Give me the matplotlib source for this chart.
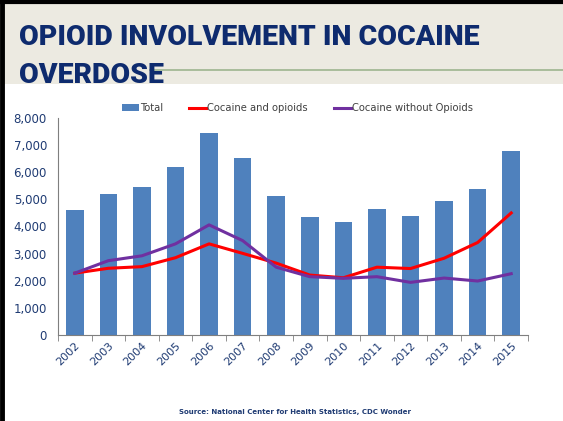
import numpy as np
import matplotlib
matplotlib.use("Agg")
import matplotlib.pyplot as plt
from matplotlib.patches import Rectangle
from matplotlib.lines import Line2D

# Data
years = ["2002", "2003", "2004", "2005", "2006", "2007", "2008",
         "2009", "2010", "2011", "2012", "2013", "2014", "2015"]
total = [4590, 5190, 5440, 6210, 7440, 6520, 5120,
         4340, 4170, 4660, 4390, 4930, 5400, 6780]
with_opioids = [2280, 2460, 2520, 2850, 3360, 3010, 2650,
                2210, 2110, 2500, 2450, 2830, 3410, 4500]
without_opioids = [2280, 2740, 2920, 3360, 4060, 3480, 2500,
                   2150, 2090, 2150, 1940, 2100, 1990, 2260]

NAVY = "#1F3B73"
TITLE_NAVY = "#0E2B6E"
BAR = "#4F81BD"
RED = "#FF0000"
PURPLE = "#7030A0"

fig = plt.figure(figsize=(5.63, 4.21), dpi=100)
fig.patch.set_facecolor("white")

# Header band and slide frame
fig.patches.append(Rectangle((0, 1 - 84 / 421), 1, 84 / 421, transform=fig.transFigure,
                             facecolor="#ECEAE1", edgecolor="none", zorder=0))
fig.add_artist(Line2D([150 / 563, 1], [1 - 70 / 421] * 2, transform=fig.transFigure,
                      color="#9DB58F", lw=1.2))
fig.add_artist(Line2D([0, 1], [1 - 1.5 / 421] * 2, transform=fig.transFigure,
                      color="black", lw=3))
fig.add_artist(Line2D([2 / 563] * 2, [0, 1], transform=fig.transFigure,
                      color="black", lw=3.5))

title_font = ["Roboto", "Liberation Sans", "DejaVu Sans"]
fig.text(19 / 563, 1 - 45 / 421, "OPIOID INVOLVEMENT IN COCAINE", family=title_font,
         weight="heavy", fontsize=20.5, color=TITLE_NAVY, ha="left", va="baseline")
fig.text(19 / 563, 1 - 83 / 421, "OVERDOSE", family=title_font,
         weight="heavy", fontsize=20.5, color=TITLE_NAVY, ha="left", va="baseline")

ax = fig.add_axes([58 / 563, 1 - 335 / 421, 470 / 563, 217 / 421])
x = np.arange(len(years))
bars = ax.bar(x, total, width=0.52, color=BAR, label="Total", zorder=2)
red_line, = ax.plot(x, with_opioids, color=RED, lw=2.2, label="Cocaine and opioids", zorder=3)
purple_line, = ax.plot(x, without_opioids, color=PURPLE, lw=2.2,
                       label="Cocaine without Opioids", zorder=3)

ax.set_xlim(-0.5, len(years) - 0.5)
ax.set_ylim(0, 8000)
ax.set_yticks(range(0, 8001, 1000))
ax.set_yticklabels([f"{v:,}" for v in range(0, 8001, 1000)])
ax.set_xticks(x)
ax.set_xticklabels(years, rotation=45, ha="right", rotation_mode="anchor")
ax.set_xticks(np.arange(-0.5, len(years)), minor=True)

for s in ("top", "right"):
    ax.spines[s].set_visible(False)
ax.spines["left"].set_color("#7F7F7F")
ax.spines["bottom"].set_color("#7F7F7F")
ax.tick_params(axis="y", length=0, labelsize=8.5, colors=NAVY, pad=8)
ax.tick_params(axis="x", which="major", length=0, labelsize=8, colors=NAVY, pad=4)
ax.tick_params(axis="x", which="minor", length=4, color="#7F7F7F")

ax.legend(handles=[bars, red_line, purple_line], loc="lower center",
          bbox_to_anchor=(0.51, 1.0), ncol=3, frameon=False,
          fontsize=7.2, labelcolor="#404040", handlelength=1.7, handletextpad=0.1,
          columnspacing=2.6, borderaxespad=0.1)

fig.text(295 / 563, 1 - 412 / 421, "Source: National Center for Health Statistics, CDC Wonder",
         fontsize=5, weight="bold", color=NAVY, ha="center", va="center")

fig.savefig("out.png", dpi=100)
